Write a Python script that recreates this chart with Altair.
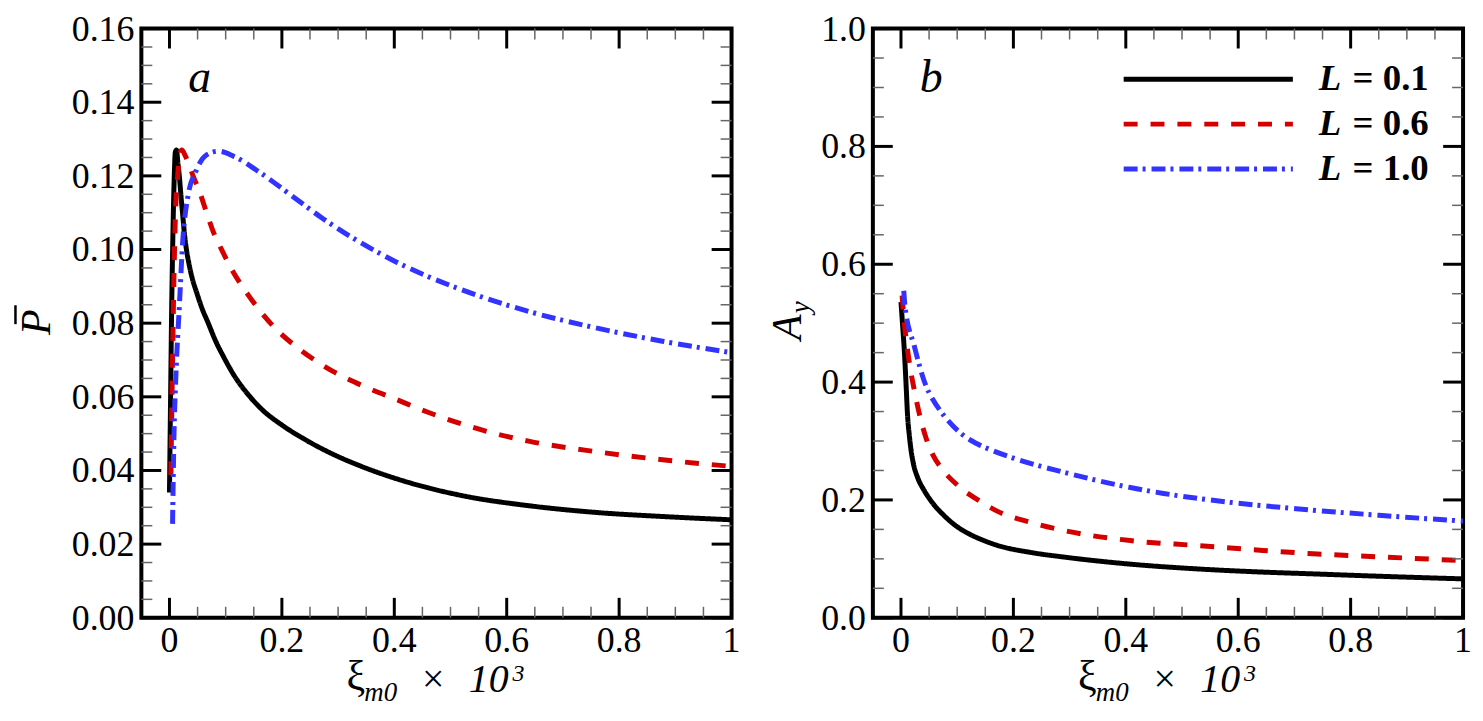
import altair as alt
import pandas as pd

# ---------------- data ----------------
SERIES = ["L = 0.1", "L = 0.6", "L = 1.0"]
COLORS = ["#000000", "#d40000", "#3333ff"]
DASHES = [[1, 0], [14, 13], [14, 5, 3, 6]]

# panel a : P-bar vs xi_m0 x 10^3
xa_01 = [0, 0.002, 0.004, 0.006, 0.008, 0.0105, 0.0125, 0.015, 0.0175, 0.0205, 0.0235, 0.0265,
         0.0297, 0.034, 0.040, 0.048, 0.058, 0.069, 0.082, 0.0965, 0.115, 0.139, 0.165, 0.1995,
         0.24, 0.287, 0.34, 0.405, 0.46, 0.523, 0.641, 0.759, 0.877, 1.0]
pa_01 = [0.034, 0.06, 0.085, 0.103, 0.117, 0.1265, 0.127, 0.1235, 0.12, 0.1145, 0.1095, 0.1045,
         0.1005, 0.0967, 0.0925, 0.0885, 0.084, 0.080, 0.0752, 0.0708, 0.0658, 0.0608, 0.0565, 0.0524,
         0.0485, 0.0447, 0.0412, 0.0377, 0.0353, 0.0331, 0.0304, 0.0286, 0.0275, 0.0266]

xa_06 = [0.0025, 0.0045, 0.0065, 0.009, 0.012, 0.0146, 0.018, 0.022, 0.028, 0.035, 0.042, 0.054,
         0.066, 0.078, 0.093, 0.1085, 0.139, 0.187, 0.236, 0.29, 0.345, 0.405, 0.46, 0.523, 0.58,
         0.641, 0.759, 0.877, 1.0]
pa_06 = [0.0387, 0.06, 0.08, 0.1, 0.115, 0.12, 0.1255, 0.127, 0.1255, 0.123, 0.12, 0.1155,
         0.11, 0.1048, 0.0999, 0.0952, 0.0879, 0.0788, 0.0724, 0.067, 0.0629, 0.0592, 0.0558, 0.0525, 0.050,
         0.0479, 0.0451, 0.0429, 0.0411]

xa_10 = [0.0055, 0.0078, 0.0115, 0.0175, 0.0237, 0.0328, 0.048, 0.066, 0.0873, 0.1145, 0.163,
         0.2115, 0.272, 0.405, 0.523, 0.641, 0.759, 0.877, 1.0]
pa_10 = [0.0255, 0.0478, 0.066, 0.0843, 0.1025, 0.1144, 0.1216, 0.1257, 0.1267, 0.1253, 0.1207,
         0.1153, 0.1085, 0.0965, 0.0889, 0.0831, 0.0787, 0.0751, 0.072]

# panel b : A_y vs xi_m0 x 10^3
xb_01 = [0, 0.003, 0.006, 0.009, 0.0118, 0.0148, 0.0177, 0.022, 0.0296, 0.04, 0.05, 0.062, 0.074,
         0.095, 0.118, 0.145, 0.171, 0.23, 0.29, 0.349, 0.408, 0.526, 0.644, 0.733, 0.85, 1.0]
ab_01 = [0.536, 0.495, 0.4526, 0.397, 0.342, 0.31, 0.286, 0.262, 0.238, 0.218, 0.203, 0.188, 0.176,
         0.158, 0.144, 0.132, 0.123, 0.111, 0.103, 0.0965, 0.091, 0.083, 0.0775, 0.0745, 0.0705, 0.066]

xb_06 = [0.002, 0.0047, 0.0137, 0.0255, 0.035, 0.0443, 0.057, 0.071, 0.1005, 0.142, 0.171, 0.23,
         0.29, 0.408, 0.526, 0.644, 0.733, 0.86, 1.0]
ab_06 = [0.547, 0.514, 0.441, 0.378, 0.337, 0.306, 0.276, 0.255, 0.225, 0.197, 0.181, 0.162,
         0.148, 0.131, 0.1226, 0.1143, 0.1087, 0.103, 0.097]

xb_10 = [0.005, 0.007, 0.0237, 0.0443, 0.057, 0.071, 0.112, 0.138, 0.165, 0.2, 0.23, 0.29, 0.349,
         0.408, 0.467, 0.585, 0.703, 0.85, 1.0]
ab_10 = [0.555, 0.53, 0.461, 0.394, 0.37, 0.35, 0.309, 0.294, 0.283, 0.271, 0.262, 0.247, 0.233,
         0.221, 0.211, 0.196, 0.185, 0.174, 0.164]

# tick positions and tick labels
x_major = [0, 0.2, 0.4, 0.6, 0.8, 1.0]
x_labels = ["0", "0.2", "0.4", "0.6", "0.8", "1"]
x_minor = [0.05, 0.1, 0.15, 0.25, 0.3, 0.35, 0.45, 0.5, 0.55, 0.65, 0.7, 0.75, 0.85, 0.9, 0.95]
pa_major = [0, 0.02, 0.04, 0.06, 0.08, 0.1, 0.12, 0.14, 0.16]
pa_labels = ["0.00", "0.02", "0.04", "0.06", "0.08", "0.10", "0.12", "0.14", "0.16"]
pa_minor = [0.005, 0.01, 0.015, 0.025, 0.03, 0.035, 0.045, 0.05, 0.055, 0.065, 0.07, 0.075,
            0.085, 0.09, 0.095, 0.105, 0.11, 0.115, 0.125, 0.13, 0.135, 0.145, 0.15, 0.155]
ab_major = [0, 0.2, 0.4, 0.6, 0.8, 1.0]
ab_labels = ["0.0", "0.2", "0.4", "0.6", "0.8", "1.0"]
ab_minor = [0.05, 0.1, 0.15, 0.25, 0.3, 0.35, 0.45, 0.5, 0.55, 0.65, 0.7, 0.75, 0.85, 0.9, 0.95]

# ---------------- layout ----------------
W, H = 593, 592
FONT = "Liberation Serif, Times New Roman, serif"
MAJ, MIN = 20, 11
LABEL_SIZE = 36


def long_df(xs, ys):
    rows = []
    for name, xv, yv in zip(SERIES, xs, ys):
        for i, (a, b) in enumerate(zip(xv, yv)):
            rows.append({"x": a, "y": b, "series": name, "idx": i})
    return pd.DataFrame(rows)


def txt(text, x, y, size, style="normal", weight="normal", angle=0, align="left"):
    return alt.Chart(pd.DataFrame({"t": [text]})).mark_text(
        align=align, baseline="alphabetic", font=FONT, fontSize=size,
        fontStyle=style, fontWeight=weight, angle=angle, color="black"
    ).encode(text="t:N", x=alt.value(x), y=alt.value(y))


def panel(df, ydom, ymaj, ylabs, ymin, letter, extra):
    xs = alt.Scale(domain=[-0.05, 1.0], nice=False, zero=False)
    ys = alt.Scale(domain=ydom, nice=False, zero=False)
    lines = alt.Chart(df).mark_line(strokeWidth=5, interpolate="monotone").encode(
        x=alt.X("x:Q", scale=xs, axis=None),
        y=alt.Y("y:Q", scale=ys, axis=None),
        color=alt.Color("series:N", scale=alt.Scale(domain=SERIES, range=COLORS), legend=None),
        strokeDash=alt.StrokeDash("series:N", scale=alt.Scale(domain=SERIES, range=DASHES), legend=None),
        order="idx:Q",
    )
    layers = [lines]

    def xt(vals, length, color, sw):
        d = pd.DataFrame({"v": vals})
        m = alt.Chart(d).mark_rule(color=color, strokeWidth=sw)
        return [
            m.encode(x=alt.X("v:Q", scale=xs, axis=None), y=alt.value(H), y2=alt.value(H - length)),
            m.encode(x=alt.X("v:Q", scale=xs, axis=None), y=alt.value(0), y2=alt.value(length)),
        ]

    def yt(vals, length, color, sw):
        d = pd.DataFrame({"v": vals})
        m = alt.Chart(d).mark_rule(color=color, strokeWidth=sw)
        return [
            m.encode(y=alt.Y("v:Q", scale=ys, axis=None), x=alt.value(0), x2=alt.value(length)),
            m.encode(y=alt.Y("v:Q", scale=ys, axis=None), x=alt.value(W - length), x2=alt.value(W)),
        ]

    layers += xt(x_minor, MIN, "#666666", 1.5)
    layers += yt(ymin, MIN, "#666666", 1.5)
    layers += xt(x_major, MAJ, "black", 3)
    layers += yt(ymaj, MAJ, "black", 3)

    # tick labels
    layers.append(
        alt.Chart(pd.DataFrame({"v": x_major, "lab": x_labels})).mark_text(
            align="center", baseline="top", font=FONT, fontSize=LABEL_SIZE, color="black"
        ).encode(x=alt.X("v:Q", scale=xs, axis=None), y=alt.value(H + 6), text="lab:N")
    )
    layers.append(
        alt.Chart(pd.DataFrame({"v": ymaj, "lab": ylabs})).mark_text(
            align="right", baseline="alphabetic", dy=12, font=FONT, fontSize=LABEL_SIZE, color="black"
        ).encode(y=alt.Y("v:Q", scale=ys, axis=None), x=alt.value(-7), text="lab:N")
    )

    # x-axis title  xi_m0 x 10^3
    b = H + 73
    layers += [
        txt("ξ", 206, b, 42),
        txt("m0", 224, b + 11, 27, style="italic"),
        txt("×", 282, b + 2, 40),
        txt("10", 329, b + 2, 40, style="italic"),
        txt("3", 373, b - 9, 24, style="italic"),
        txt(letter, 47, 64, 46, style="italic"),
    ]
    layers += extra
    return alt.layer(*layers).properties(width=W, height=H)


# left panel extras: y title P-bar and a transparent anchor fixing the left edge
anchor = alt.Chart(pd.DataFrame({"a": [0]})).mark_rule(opacity=0).encode(
    x=alt.value(-132), x2=alt.value(-131), y=alt.value(0), y2=alt.value(1))
bar = alt.Chart(pd.DataFrame({"a": [0]})).mark_rule(color="black", strokeWidth=2.5).encode(
    x=alt.value(-126.5), x2=alt.value(-126.5), y=alt.value(278), y2=alt.value(297))
left_extra = [anchor, bar, txt("P", -92, 295, 42, style="italic", angle=270, align="center")]

# right panel extras: y title A_y and legend
right_extra = [
    txt("A", -72, 300, 42, style="italic", angle=270, align="center"),
    txt("y", -64, 280, 27, style="italic", angle=270, align="center"),
]
leg_y = [51, 96, 141]
for name, col, dash, ly in zip(SERIES, COLORS, DASHES, leg_y):
    rule = alt.Chart(pd.DataFrame({"s": [name]})).mark_rule(
        color=col, strokeWidth=5, strokeDash=dash).encode(
        x=alt.value(252), x2=alt.value(422), y=alt.value(ly), y2=alt.value(ly))
    right_extra += [
        rule,
        txt("L", 448, ly + 11, 37, style="italic", weight="bold"),
        txt(name[2:], 482, ly + 11, 37, weight="bold"),
    ]

df_a = long_df([xa_01, xa_06, xa_10], [pa_01, pa_06, pa_10])
df_b = long_df([xb_01, xb_06, xb_10], [ab_01, ab_06, ab_10])

left = panel(df_a, [0, 0.16], pa_major, pa_labels, pa_minor, "a", left_extra)
right = panel(df_b, [0, 1.0], ab_major, ab_labels, ab_minor, "b", right_extra)

chart = alt.hconcat(left, right, spacing=142, bounds="flush", padding=0).configure_view(
    stroke="black", strokeWidth=4
)

chart.save("out.html", embed_options={"renderer": "svg", "actions": False})
